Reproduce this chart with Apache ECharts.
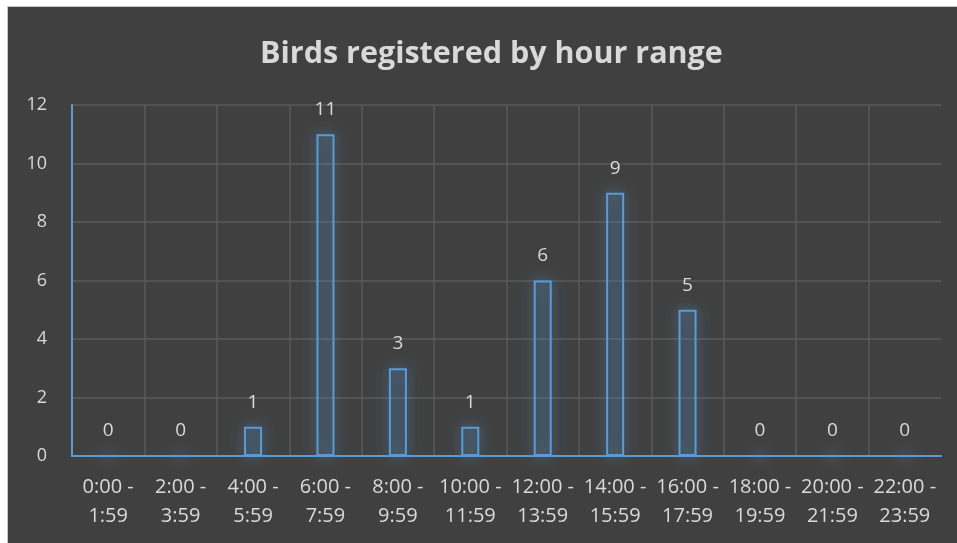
<!DOCTYPE html>
<html>
<head>
<meta charset="utf-8">
<script src="https://cdn.jsdelivr.net/npm/echarts@6/dist/echarts.min.js"></script>
<style>
  html, body { margin: 0; padding: 0; background: #ffffff; }
  #chart { width: 957px; height: 543px; }
</style>
</head>
<body>
<div id="chart"></div>
<script>
// Hour ranges and number of birds registered in each
const hourRanges = [
  '0:00 -\n1:59', '2:00 -\n3:59', '4:00 -\n5:59', '6:00 -\n7:59',
  '8:00 -\n9:59', '10:00 -\n11:59', '12:00 -\n13:59', '14:00 -\n15:59',
  '16:00 -\n17:59', '18:00 -\n19:59', '20:00 -\n21:59', '22:00 -\n23:59'
];
const birdCounts = [0, 0, 1, 11, 3, 1, 6, 9, 5, 0, 0, 0];
const yTicks = { min: 0, max: 12, interval: 2 };

const chart = echarts.init(document.getElementById('chart'));
const textColor = '#d9d9d9';
const fontFamily = '"Open Sans", sans-serif';

chart.setOption({
  backgroundColor: '#ffffff',
  animation: false,
  graphic: [{
    type: 'rect',
    z: -10,
    silent: true,
    shape: { x: 7.5, y: 6.5, width: 952, height: 540 },
    style: { fill: '#404040', stroke: '#c6c6c6', lineWidth: 1 }
  }],
  title: {
    text: 'Birds registered by hour range',
    left: 255,
    top: 34,
    textStyle: { color: textColor, fontSize: 30.5, fontWeight: 'bold', fontFamily: fontFamily }
  },
  grid: { left: 72, right: 16, top: 105, bottom: 87 },
  xAxis: {
    type: 'category',
    data: hourRanges,
    axisLine: { lineStyle: { color: '#5b9bd5', width: 2 } },
    axisTick: { show: false },
    axisLabel: {
      color: textColor, fontSize: 20, fontFamily: fontFamily,
      lineHeight: 29, margin: 17, interval: 0
    },
    splitLine: { show: true, showMaxLine: false, lineStyle: { color: '#5a5a5a', width: 1.5 } }
  },
  yAxis: {
    type: 'value',
    min: yTicks.min,
    max: yTicks.max,
    interval: yTicks.interval,
    axisLine: { show: true, lineStyle: { color: '#5b9bd5', width: 2 } },
    axisTick: { show: false },
    axisLabel: { color: textColor, fontSize: 18, fontFamily: fontFamily, margin: 25 },
    splitLine: { lineStyle: { color: '#5a5a5a', width: 1.5 } }
  },
  series: [{
    type: 'bar',
    data: birdCounts,
    barWidth: 18,
    itemStyle: {
      color: 'rgba(91,155,213,0.08)',
      borderColor: '#5b9bd5',
      borderWidth: 2,
      shadowBlur: 14,
      shadowColor: 'rgba(91,155,213,1)'
    },
    label: {
      show: true,
      position: 'top',
      distance: 15,
      color: textColor,
      fontSize: 19,
      fontFamily: fontFamily
    }
  }]
});
</script>
</body>
</html>
